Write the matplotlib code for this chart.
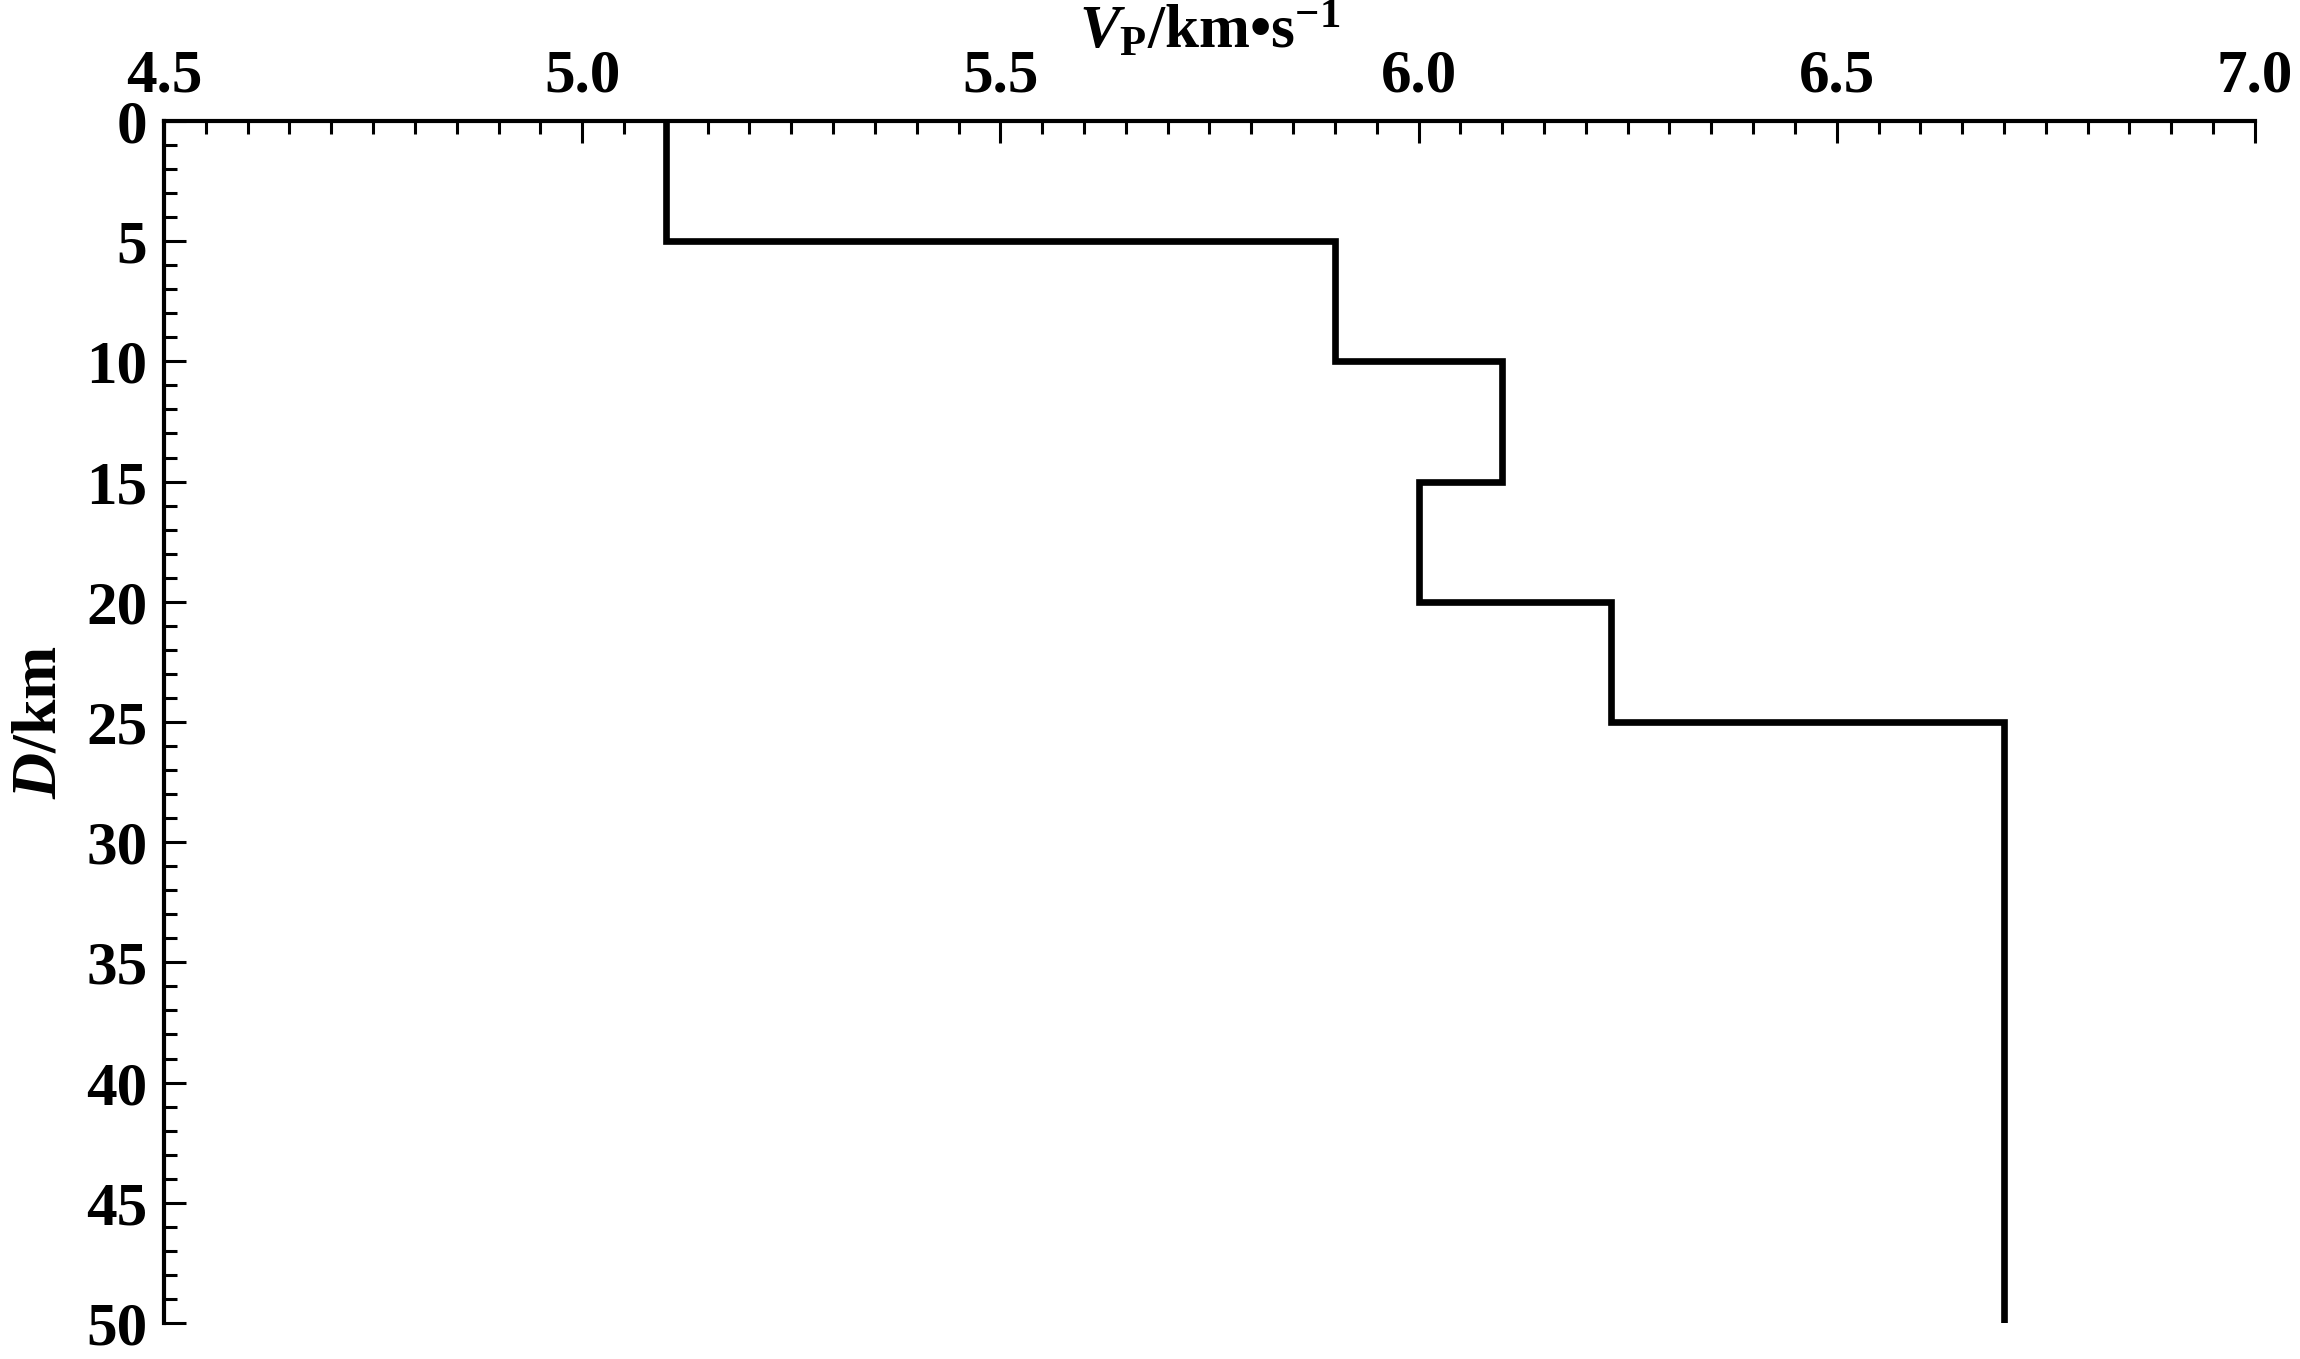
import numpy as np
import matplotlib
matplotlib.use("Agg")
import matplotlib.pyplot as plt
from matplotlib.ticker import MultipleLocator

# layer boundaries (km) and P-wave velocity of each layer (km/s)
depth_edges = [0, 5, 10, 15, 20, 25, 50]
vp = [5.10, 5.90, 6.10, 6.00, 6.23, 6.70]

x_ticks = [4.5, 5.0, 5.5, 6.0, 6.5, 7.0]
y_ticks = [0, 5, 10, 15, 20, 25, 30, 35, 40, 45, 50]

plt.rcParams['font.family'] = 'Liberation Serif'
plt.rcParams['font.weight'] = 'bold'
plt.rcParams['mathtext.fontset'] = 'custom'
plt.rcParams['mathtext.rm'] = 'Liberation Serif'
plt.rcParams['mathtext.it'] = 'Liberation Serif:italic:bold'
plt.rcParams['mathtext.bf'] = 'Liberation Serif:bold'

fig = plt.figure(figsize=(23, 13.59), dpi=100)
ax = fig.add_axes([0.0713, 0.0265, 0.9804 - 0.0713, 0.911 - 0.0265])

ax.stairs(vp, depth_edges, orientation='horizontal', baseline=None,
          color='black', linewidth=4.8)

ax.set_xlim(4.5, 7.0)
ax.set_ylim(50, 0)
ax.set_xticks(x_ticks)
ax.set_xticklabels(['%.1f' % v for v in x_ticks])
ax.set_yticks(y_ticks)
ax.xaxis.set_minor_locator(MultipleLocator(0.05))
ax.yaxis.set_minor_locator(MultipleLocator(1))

ax.xaxis.tick_top()
ax.xaxis.set_label_position('top')
for s in ['right', 'bottom']:
    ax.spines[s].set_visible(False)
for s in ['left', 'top']:
    ax.spines[s].set_linewidth(3.0)

ax.tick_params(which='both', direction='in', width=2.2, labelsize=44)
ax.tick_params(which='major', length=16)
ax.tick_params(which='minor', length=9.5)
ax.tick_params(axis='x', pad=12)
ax.tick_params(axis='y', pad=12)

ax.set_xlabel('$\\mathit{V}_{\\mathrm{P}}\\mathbf{/km\u2022s}^{-1}$', fontsize=44, labelpad=0)
ax.set_ylabel(r'$\mathit{D}\mathbf{/km}$', fontsize=46, labelpad=12)

fig.savefig('out.png', dpi=100)
